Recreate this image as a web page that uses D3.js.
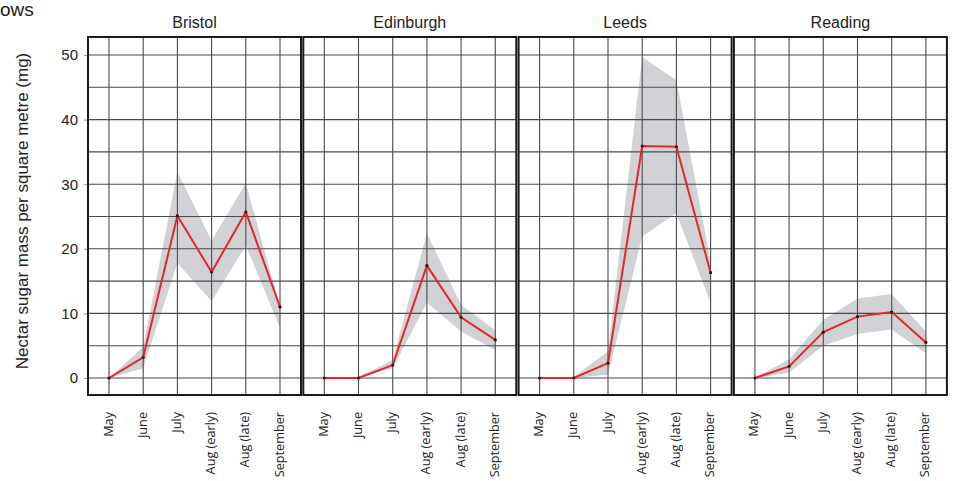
<!DOCTYPE html>
<html>
<head>
<meta charset="utf-8">
<script src="https://cdn.jsdelivr.net/npm/d3@7"></script>
<style>
  body { margin: 0; background: #fff; }
  text { font-family: "Liberation Sans", Arial, sans-serif; fill: #222; }
  .month { font-family: "Open Sans", sans-serif; font-size: 12.7px; }
</style>
</head>
<body>
<svg width="953" height="481"></svg>
<script>
var svg = d3.select('svg');

// data
var sites = ['Bristol', 'Edinburgh', 'Leeds', 'Reading'];
var months = ['May', 'June', 'July', 'Aug (early)', 'Aug (late)', 'September'];
var yTicks = [0, 10, 20, 30, 40, 50];

var meanValues = [
  [0, 3.2, 25.1, 16.4, 25.7, 11.0],
  [0, 0, 2.0, 17.4, 9.4, 5.9],
  [0, 0, 2.3, 35.9, 35.8, 16.3],
  [0, 1.8, 7.1, 9.5, 10.2, 5.5]
];
var upperValues = [
  [0, 4.8, 31.9, 21.3, 30.2, 11.0],
  [0, 0.2, 2.8, 22.4, 11.3, 7.4],
  [0, 0.2, 4.1, 49.7, 46.1, 18.0],
  [0, 2.9, 9.0, 12.3, 13.0, 7.2]
];
var lowerValues = [
  [0, 1.5, 17.8, 11.9, 20.5, 7.8],
  [0, 0, 1.5, 11.7, 7.2, 4.3],
  [0, 0, 0.5, 21.9, 25.5, 11.6],
  [0, 0.8, 5.0, 6.8, 7.5, 3.8]
];

var panelTop = 37, panelBottom = 395, panelW = 213;
var firstLeft = 88, panelStep = 215.3;

var y = d3.scaleLinear()
  .domain([0, 50])
  .range([378, 55]);

var gridValues = d3.range(0, 51, 5);

// heading fragment (cut off above in the original)
svg.append('text')
  .attr('x', 0).attr('y', 16)
  .style('font-size', '19px')
  .text('ows');

// y axis label
svg.append('text')
  .attr('transform', 'translate(28,211)rotate(-90)')
  .attr('text-anchor', 'middle')
  .style('font-size', '17px')
  .text('Nectar sugar mass per square metre (mg)');

// y axis
var yAxis = d3.axisLeft(y).tickValues(yTicks).tickSize(4).tickPadding(6);
var ya = svg.append('g')
  .attr('transform', 'translate(' + firstLeft + ',0)')
  .call(yAxis);
ya.select('.domain').remove();
ya.selectAll('line').attr('stroke', '#999');
ya.selectAll('text').style('font-size', '15px').style('font-family', '"Liberation Sans", Arial, sans-serif').attr('fill', '#222');

sites.forEach(function (site, i) {
  var left = firstLeft + i * panelStep;
  var x = d3.scalePoint()
    .domain(months)
    .range([left + 21, left + panelW - 21]);

  var g = svg.append('g');

  // band
  var area = d3.area()
    .x(function (d, j) { return x(months[j]); })
    .y0(function (d, j) { return y(lowerValues[i][j]); })
    .y1(function (d) { return y(d); });
  g.append('path')
    .datum(upperValues[i])
    .attr('d', area)
    .attr('fill', '#d1d2d6');

  // grid
  g.selectAll('.hgrid')
    .data(gridValues)
    .join('line')
      .attr('x1', left).attr('x2', left + panelW)
      .attr('y1', function (d) { return y(d); })
      .attr('y2', function (d) { return y(d); })
      .attr('stroke', '#4a4a4a')
      .attr('stroke-width', 1.1);
  g.selectAll('.vgrid')
    .data(months)
    .join('line')
      .attr('x1', function (d) { return x(d); })
      .attr('x2', function (d) { return x(d); })
      .attr('y1', panelTop).attr('y2', panelBottom)
      .attr('stroke', '#4a4a4a')
      .attr('stroke-width', 1.1);

  // mean line
  var line = d3.line()
    .x(function (d, j) { return x(months[j]); })
    .y(function (d) { return y(d); });
  g.append('path')
    .datum(meanValues[i])
    .attr('d', line)
    .attr('fill', 'none')
    .attr('stroke', '#e8252b')
    .attr('stroke-width', 2);

  g.selectAll('.pt')
    .data(meanValues[i])
    .join('circle')
      .attr('cx', function (d, j) { return x(months[j]); })
      .attr('cy', function (d) { return y(d); })
      .attr('r', 1.6)
      .attr('fill', '#3a1010');

  // frame
  g.append('rect')
    .attr('x', left).attr('y', panelTop)
    .attr('width', panelW).attr('height', panelBottom - panelTop)
    .attr('fill', 'none')
    .attr('stroke', '#1a1a1a')
    .attr('stroke-width', 2);

  // title
  g.append('text')
    .attr('x', left + panelW / 2)
    .attr('y', 28)
    .attr('text-anchor', 'middle')
    .style('font-size', '16px')
    .text(site);

  // month labels
  g.selectAll('.month')
    .data(months)
    .join('text')
      .attr('class', 'month')
      .attr('transform', function (d) { return 'translate(' + (x(d) + 3.5) + ',412)rotate(-90)'; })
      .attr('text-anchor', 'end')
      .text(function (d) { return d; });
});
</script>
</body>
</html>
